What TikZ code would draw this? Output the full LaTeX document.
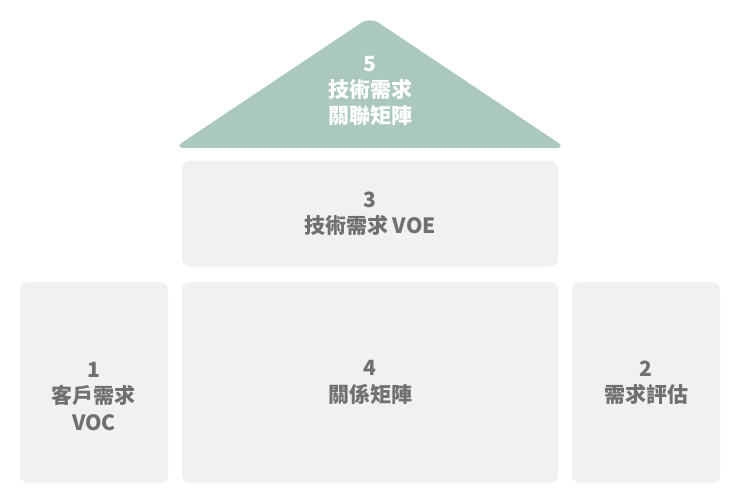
\documentclass[tikz,border=0pt]{standalone}
\usepackage{fontspec}
\newfontfamily\cjk{Noto Sans CJK TC}
\usepackage{tikz}
\usetikzlibrary{positioning}
\definecolor{roofgreen}{RGB}{170,200,190}
\definecolor{cellgray}{RGB}{241,241,241}
\definecolor{textgray}{RGB}{112,112,112}

\begin{document}
\begin{tikzpicture}[x=1pt,y=-1pt]%
        \useasboundingbox (0,0) rectangle (740,503);%%
        % roof
        \fill[roofgreen,rounded corners=10pt] (370,148) -- (566,148) -- (370,17) -- (174,148) -- cycle;%%
        \node[text=white,font=\cjk\bfseries\fontsize{21}{26}\selectfont,align=center] (hoq) at (370,90.5)  {5\\技術需求\\關聯矩陣}; %%
        \begin{scope}
            \tikzstyle{every node}=[fill=cellgray,rounded corners=8pt,text=textgray,align=center,inner sep=0pt,font=\cjk\bfseries\fontsize{21}{26.5}\selectfont];%%
            \node[minimum width=376,minimum height=106] (voe) at (370,213.5)  {3\\技術需求 VOE}; %%
            \node[minimum width=148,minimum height=201] (voc) at (94,382.5)  {}; %%
            \node[minimum width=376,minimum height=201] (rel) at (370,382.5)  {4\\關係矩陣}; %%
            \node[minimum width=148,minimum height=201] (eval) at (646,382.5)  {2\\需求評估}; %%
        \end{scope}
        \node[text=textgray,align=center,font=\cjk\bfseries\fontsize{21}{26.5}\selectfont] (voct) at (voc.center) [yshift=-14pt] {1\\客戶需求\\VOC}; %%
        \end{tikzpicture}
\end{document}
